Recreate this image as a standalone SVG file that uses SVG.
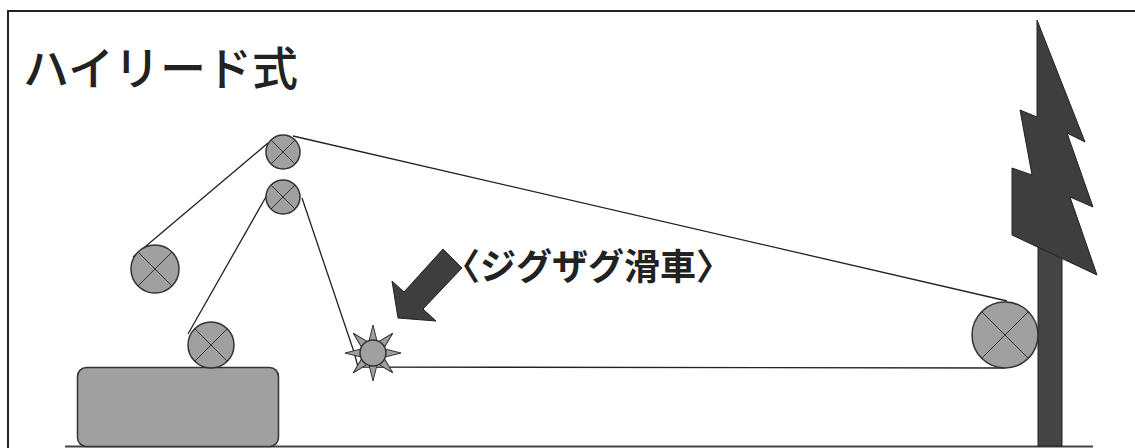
<svg xmlns="http://www.w3.org/2000/svg" width="1135" height="448" viewBox="0 0 1135 448">
  <style>
    .pulley { fill: #a0a0a0; stroke: #333; stroke-width: 1.5; }
    .cross { stroke: #333; stroke-width: 1; fill: none; }
    .rope { stroke: #222; stroke-width: 1.3; fill: none; }
    .dark { fill: #3e3e3e; stroke: #222; stroke-width: 1; }
    .title { font-family: "Noto Sans CJK JP", "Noto Sans", sans-serif; font-size: 46px; font-weight: 500; fill: #222; }
    .label { font-family: "Noto Sans CJK JP", "Noto Sans", sans-serif; font-size: 36px; font-weight: bold; fill: #222; }
  </style>
  <defs>
    <!-- pulley of unit radius: X across the disc -->
    <g id="pulleyX">
      <line class="cross" x1="-0.707" y1="-0.707" x2="0.707" y2="0.707" vector-effect="non-scaling-stroke"/>
      <line class="cross" x1="0.707" y1="-0.707" x2="-0.707" y2="0.707" vector-effect="non-scaling-stroke"/>
    </g>
    <polygon id="tooth" points="-4,-12 4,-12 0,-28" fill="#a0a0a0" stroke="#333" stroke-width="1"/>
  </defs>

  <rect width="1135" height="448" fill="#fff"/>

  <!-- frame -->
  <path d="M8,448 V11 H1135" fill="none" stroke="#222" stroke-width="2"/>

  <!-- ground -->
  <line x1="65" y1="446.5" x2="1093" y2="446.5" stroke="#444" stroke-width="2"/>

  <text class="title" x="23" y="85">ハイリード式</text>

  <!-- ropes -->
  <g id="connectors">
    <line class="rope" x1="268" y1="143" x2="133" y2="257"/>
    <line class="rope" x1="293" y1="136" x2="1007" y2="301"/>
    <line class="rope" x1="267" y1="195" x2="188" y2="334"/>
    <path class="rope" d="M302,198 L354,352 L358,367 L1005,368"/>
  </g>

  <!-- spar tree -->
  <g id="tree">
    <rect x="1038" y="240" width="24" height="206" fill="#444" stroke="#222" stroke-width="1"/>
    <polygon class="dark" points="1037,20 1085,142 1067,133 1093,207 1070,197 1097,275 1012,235 1012,168 1032,175 1020,110 1037,117"/>
  </g>

  <!-- yarder body -->
  <g id="yarder">
    <rect x="77.5" y="367.5" width="201" height="79" rx="9" fill="#a0a0a0" stroke="#333" stroke-width="1.5"/>
  </g>

  <g id="pulley-top">
    <circle class="pulley" cx="283" cy="152" r="17"/>
    <use href="#pulleyX" transform="translate(283,152) scale(17)"/>
  </g>
  <g id="pulley-second">
    <circle class="pulley" cx="283" cy="197" r="17"/>
    <use href="#pulleyX" transform="translate(283,197) scale(17)"/>
  </g>
  <g id="pulley-left">
    <circle class="pulley" cx="155" cy="269" r="24"/>
    <use href="#pulleyX" transform="translate(155,269) scale(24)"/>
  </g>
  <g id="pulley-yarder">
    <circle class="pulley" cx="211" cy="345" r="23"/>
    <use href="#pulleyX" transform="translate(211,345) scale(23)"/>
  </g>
  <g id="pulley-tail">
    <circle class="pulley" cx="1005" cy="335" r="33"/>
    <use href="#pulleyX" transform="translate(1005,335) scale(33)"/>
  </g>

  <!-- zigzag pulley with teeth -->
  <g id="zigzag-pulley" transform="translate(373,353)">
    <use href="#tooth" transform="rotate(0)"/>
    <use href="#tooth" transform="rotate(45)"/>
    <use href="#tooth" transform="rotate(90)"/>
    <use href="#tooth" transform="rotate(135)"/>
    <use href="#tooth" transform="rotate(180)"/>
    <use href="#tooth" transform="rotate(225)"/>
    <use href="#tooth" transform="rotate(270)"/>
    <use href="#tooth" transform="rotate(315)"/>
    <circle class="pulley" cx="0" cy="0" r="13"/>
  </g>

  <!-- pointer arrow and label -->
  <g id="callout">
    <polygon class="dark" points="398,318 392,281 404,292 443,249 462,268 423,309 436,321"/>
    <text class="label" x="444" y="280">〈ジグザグ滑車〉</text>
  </g>
</svg>
